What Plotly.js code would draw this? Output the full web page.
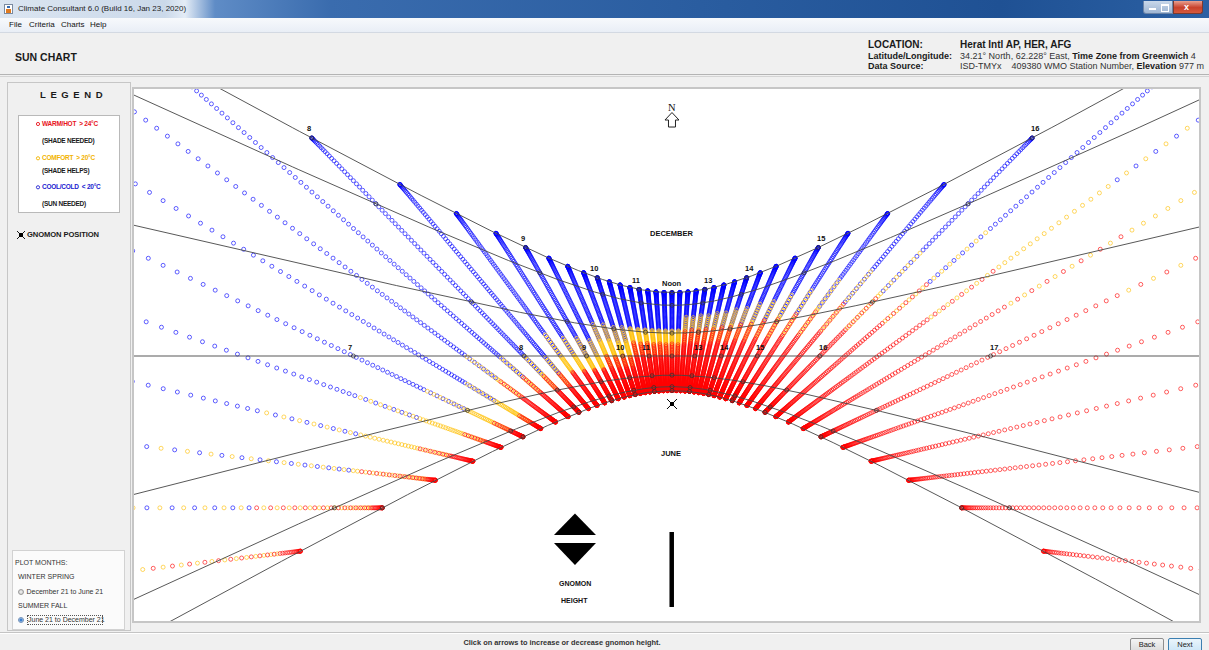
<!DOCTYPE html>
<html><head><meta charset="utf-8">
<script src="https://cdn.plot.ly/plotly-3.0.1.min.js"></script>
<style>
html,body{margin:0;padding:0;}
body{width:1209px;height:650px;overflow:hidden;background:#f0f0f0;font-family:"Liberation Sans",Arial,sans-serif;position:relative;color:#111;}
.a{position:absolute;white-space:nowrap;}
.b{font-weight:bold;}
.lg{font-size:6.5px;font-weight:bold;letter-spacing:-0.25px;line-height:8px;}
.pm{font-size:7px;color:#333;line-height:8px;}
</style></head><body>
<!-- title bar -->
<div class="a" style="left:0;top:0;width:1209px;height:18px;background:linear-gradient(to right,#dbe5f1 0px,#cbd9ea 165px,#e4ecf6 185px,#5f8cc6 215px,#3a6cae 330px,#2a5da0 700px,#1f5194 1000px,#2b60a3 1209px);"></div>
<div class="a" style="left:4px;top:4px;width:9px;height:10px;background:#fff;border:1px solid #7a8aa0;box-sizing:border-box;"><div style="position:absolute;left:1px;top:4px;width:5px;height:4px;background:#e07a20;"></div><div style="position:absolute;left:2px;top:1px;width:3px;height:2px;background:#3a6cb0;"></div></div>
<div class="a" style="left:18px;top:4px;font-size:8px;line-height:10px;color:#1c1c1c;">Climate Consultant 6.0 (Build 16, Jan 23, 2020)</div>
<div class="a" style="left:1143px;top:1px;width:30px;height:13px;background:linear-gradient(#c9d8ea,#9fb6d3);border:1px solid #6b84a8;border-top:none;border-radius:0 0 0 3px;box-sizing:border-box;"></div>
<div class="a" style="left:1149px;top:8px;width:7px;height:2px;background:#fff;"></div>
<div class="a" style="left:1161px;top:4px;width:6px;height:5px;border:1px solid #fff;border-top-width:2px;"></div>
<div class="a" style="left:1173px;top:1px;width:30px;height:13px;background:linear-gradient(#e8a090,#c8412c 55%,#d65a3c);border:1px solid #7a3a30;border-top:none;border-radius:0 0 3px 0;box-sizing:border-box;"></div>
<div class="a b" style="left:1184px;top:2px;font-size:9px;color:#fff;line-height:11px;">x</div>
<!-- menu -->
<div class="a" style="left:0;top:18px;width:1209px;height:14px;background:linear-gradient(#f7f9fc,#e9eef6);border-bottom:1px solid #d3d9e2;"></div>
<div class="a" style="left:9px;top:20px;font-size:8px;line-height:10px;">File</div>
<div class="a" style="left:29px;top:20px;font-size:8px;line-height:10px;">Criteria</div>
<div class="a" style="left:61px;top:20px;font-size:8px;line-height:10px;">Charts</div>
<div class="a" style="left:90px;top:20px;font-size:8px;line-height:10px;">Help</div>
<!-- header -->
<div class="a" style="left:0;top:74px;width:1209px;height:1px;background:#b4b4b4;"></div>
<div class="a" style="left:0;top:76px;width:1209px;height:1px;background:#d4d4d4;"></div>
<div class="a b" style="left:15px;top:51px;font-size:10.5px;line-height:13px;color:#1a1a1a;">SUN CHART</div>
<div class="a b" style="left:868px;top:39px;font-size:10px;line-height:12px;color:#1a1a1a;">LOCATION:</div>
<div class="a b" style="left:960px;top:39px;font-size:10px;line-height:12px;color:#1a1a1a;">Herat Intl AP, HER, AFG</div>
<div class="a b" style="left:868px;top:51px;font-size:9px;line-height:10px;color:#1a1a1a;">Latitude/Longitude:</div>
<div class="a" style="left:960px;top:51px;font-size:9px;line-height:10px;color:#333;">34.21° North, 62.228° East, <b style="color:#1a1a1a">Time Zone from Greenwich</b> 4</div>
<div class="a b" style="left:868px;top:61px;font-size:9px;line-height:10px;color:#1a1a1a;">Data Source:</div>
<div class="a" style="left:960px;top:61px;font-size:9px;line-height:10px;color:#333;">ISD-TMYx&nbsp;&nbsp;&nbsp;&nbsp;409380 WMO Station Number, <b style="color:#1a1a1a">Elevation</b> 977 m</div>
<!-- left panel -->
<div class="a" style="left:7px;top:82px;width:124px;height:549px;border:1px solid #c6c6c6;box-sizing:border-box;"></div>
<div class="a b" style="left:40px;top:89px;font-size:9.5px;line-height:12px;letter-spacing:4.6px;color:#1a1a1a;">LEGEND</div>
<div class="a" style="left:18px;top:115px;width:102px;height:98px;background:#fff;border:1px solid #b9b9b9;box-sizing:border-box;"></div>
<svg class="a" style="left:0;top:0" width="140" height="250">
 <circle cx="38" cy="124" r="1.6" fill="none" stroke="#e8141c" stroke-width="0.9"/>
 <circle cx="38" cy="158.3" r="1.6" fill="none" stroke="#f2b300" stroke-width="0.9"/>
 <circle cx="38" cy="187.3" r="1.6" fill="none" stroke="#2020d0" stroke-width="0.9"/>
 <line x1="17" y1="231" x2="25" y2="239" stroke="#000" stroke-width="0.9"/>
 <line x1="25" y1="231" x2="17" y2="239" stroke="#000" stroke-width="0.9"/>
 <rect x="19" y="233" width="4" height="4" fill="#000"/>
</svg>
<div class="a lg" style="left:42px;top:120px;color:#e8141c;">WARM/HOT&nbsp; &gt; 24°C</div>
<div class="a lg" style="left:42px;top:136.7px;color:#1a1a1a;">(SHADE NEEDED)</div>
<div class="a lg" style="left:42px;top:154.3px;color:#f2b300;">COMFORT&nbsp; &gt; 20°C</div>
<div class="a lg" style="left:42px;top:166.7px;color:#1a1a1a;">(SHADE HELPS)</div>
<div class="a lg" style="left:42px;top:183.3px;color:#2020d0;">COOL/COLD&nbsp; &lt; 20°C</div>
<div class="a lg" style="left:42px;top:200px;color:#1a1a1a;">(SUN NEEDED)</div>
<div class="a b" style="left:27px;top:231px;font-size:7.6px;line-height:8px;letter-spacing:-0.1px;color:#1a1a1a;">GNOMON POSITION</div>
<div class="a" style="left:12px;top:550px;width:113px;height:80px;background:#fbfbfb;border:1px solid #d2d2d2;box-sizing:border-box;"></div>
<div class="a pm" style="left:15px;top:558.7px;">PLOT MONTHS:</div>
<div class="a pm" style="left:18px;top:573px;">WINTER SPRING</div>
<div class="a" style="left:17.5px;top:588.5px;width:6px;height:6px;border-radius:50%;background:radial-gradient(#f4f4f4,#c4c4c4);border:0.5px solid #9a9a9a;box-sizing:border-box;"></div>
<div class="a pm" style="left:26.5px;top:587.7px;">December 21 to June 21</div>
<div class="a pm" style="left:18px;top:601.7px;">SUMMER FALL</div>
<div class="a" style="left:17.5px;top:616.8px;width:6px;height:6px;border-radius:50%;background:radial-gradient(#3a7fd0 40%,#bcd2ea 70%);border:0.5px solid #6f8fb8;box-sizing:border-box;"></div>
<div class="a" style="left:27px;top:614.5px;width:76px;height:10px;border:1px dotted #555;box-sizing:border-box;"></div>
<div class="a pm" style="left:28px;top:616px;">June 21 to December 21</div>
<!-- plot frame -->
<div class="a" style="left:132px;top:87px;width:1069px;height:536px;border:2px solid #c6c6c6;box-sizing:border-box;background:#fff;"></div>
<div id="plot" class="a" style="left:134px;top:89px;width:1065px;height:532px;"></div>
<!-- status -->
<div class="a" style="left:0;top:632px;width:1209px;height:1px;background:#c4c4c4;"></div>
<div class="a" style="left:0;top:633px;width:1209px;height:1px;background:#fff;"></div>
<div class="a b" style="left:362px;width:400px;text-align:center;top:639px;font-size:7.4px;line-height:8px;color:#333;">Click on arrows to increase or decrease gnomon height.</div>
<div class="a" style="left:1130px;top:638px;width:34px;height:14px;border:1px solid #8e8e8e;border-radius:2px;box-sizing:border-box;background:linear-gradient(#f4f4f4,#dcdcdc);font-size:7.5px;line-height:12px;text-align:center;color:#222;">Back</div>
<div class="a" style="left:1168px;top:638px;width:34px;height:14px;border:1px solid #3c7fb1;border-radius:2px;box-sizing:border-box;background:linear-gradient(#eaf5fc,#cde6f7);font-size:7.5px;line-height:12px;text-align:center;color:#222;">Next</div>
<script>
// ---------- data ----------
const LATITUDE = 34.21;            // degrees north
const GNOMON_HEIGHT = 1;           // plot unit = one gnomon height
const FIRST_DAY = 172;             // June 21 (day of year)
const LAST_DAY = 355;              // December 21
const START_HOUR = 5, END_HOUR = 19, STEP_HOURS = 0.25;   // shadow readings every 15 minutes (solar time)
const MONTH_NAMES = ['Jun 21','Jul 21','Aug 21','Sep 21','Oct 21','Nov 21','Dec 21'];
const MONTH_DECLINATION = [23.44, 20.4, 12.0, 0.0, -10.9, -20.2, -23.44];
const DEC_LABEL_HOURS = [8, 9, 10, 11, 12, 13, 14, 15, 16];
const DEC_LABEL_TEXT = ['8','9','10','11','Noon','13','14','15','16'];
const EQX_LABEL_HOURS = [7, 8, 9, 10, 11, 13, 14, 15, 16, 17];
const EQX_LABEL_TEXT = ['7','8','9','10','11','13','14','15','16','17'];
// half-month periods from June 21 to December 21
const PERIODS = ['Jun 21','Jul 6','Jul 21','Aug 5','Aug 20','Sep 5','Sep 20','Oct 5','Oct 20','Nov 5','Nov 20','Dec 5'];
// temperature class by solar hour (rows 5..19) and period:
// R = warm/hot >24°C, Y = comfort >20°C, B = cool/cold <20°C, o = mixed R/Y, g = mixed Y/B
const CLASS_HOURS = [5,6,7,8,9,10,11,12,13,14,15,16,17,18,19];
const TEMP_CLASS = [
  'RoYgBBBBBBBB',
  'RooggBBBBBBB',
  'RRoYgBBBBBBB',
  'RRRRogBBBBBB',
  'RRRRRYgBBBBB',
  'RRRRRoYgBBBB',
  'RRRRRRoYBBBB',
  'RRRRRRoYBBBB',
  'RRRRRRRogBBB',
  'RRRRRRRogBBB',
  'RRRRRRRogBBB',
  'RRRRRRRogBBB',
  'RRRRRRRoYgBB',
  'RRRRRRRoYBBB',
  'RRRRRYBBBBBB'
];
const CLASS_COLORS = {R:'rgb(255,0,0)', Y:'rgb(255,190,0)', B:'rgb(0,0,255)'};

// ---------- geometry (shadow-tip projection) ----------
const RAD = Math.PI/180;
function declination(doy){ return 23.44*Math.sin(2*Math.PI*(284+doy)/365); }
function shadow(hourAngle, decl){
  const p = LATITUDE*RAD, d = decl*RAD, H = hourAngle*RAD;
  const U = Math.sin(p)*Math.sin(d) + Math.cos(p)*Math.cos(d)*Math.cos(H);
  if (U <= 0.004) return null;
  return [GNOMON_HEIGHT*Math.cos(d)*Math.sin(H)/U,
          -GNOMON_HEIGHT*(Math.cos(p)*Math.sin(d) - Math.sin(p)*Math.cos(d)*Math.cos(H))/U];
}
const XR = [-7.620, 7.465], YR = [-3.074, 4.462];
function inView(q, m){ return q && q[0] > XR[0]-m && q[0] < XR[1]+m && q[1] > YR[0]-m && q[1] < YR[1]+m; }

// ---------- points ----------
const pts = {R:{x:[],y:[]}, Y:{x:[],y:[]}, B:{x:[],y:[]}};
const nSlots = Math.round((END_HOUR-START_HOUR)/STEP_HOURS);
const periodLen = (LAST_DAY-FIRST_DAY+1)/PERIODS.length;
for (let s = 0; s <= nSlots; s++) {
  const t = START_HOUR + s*STEP_HOURS;
  const row = TEMP_CLASS[CLASS_HOURS.indexOf(Math.min(END_HOUR, Math.max(START_HOUR, Math.round(t))))];
  for (let doy = FIRST_DAY; doy <= LAST_DAY; doy++) {
    const q = shadow((t-12)*15, declination(doy));
    if (!inView(q, 0.08)) continue;
    const k = doy - FIRST_DAY;
    let c = row[Math.min(PERIODS.length-1, Math.floor(k/periodLen))];
    if (c === 'o') c = ((k+s)%2) ? 'R' : 'Y';
    if (c === 'g') c = ((k+s)%2) ? 'Y' : 'B';
    pts[c].x.push(q[0]); pts[c].y.push(q[1]);
  }
}
const traces = [];
['B','Y','R'].forEach(c => traces.push({
  type:'scatter', mode:'markers', x:pts[c].x, y:pts[c].y, hoverinfo:'skip',
  marker:{symbol:'circle-open', size:4, color:CLASS_COLORS[c], opacity:0.62, line:{width:1, color:CLASS_COLORS[c]}}
}));

// ---------- month date curves ----------
MONTH_DECLINATION.forEach((dec, i) => {
  const xs = [], ys = [];
  for (let H = -180; H <= 180; H += 0.2) {
    const q = shadow(H, dec);
    if (!q || Math.abs(q[0]) > 80 || Math.abs(q[1]) > 80) { xs.push(null); ys.push(null); }
    else { xs.push(q[0]); ys.push(q[1]); }
  }
  traces.push({type:'scatter', mode:'lines', name:MONTH_NAMES[i], x:xs, y:ys, hoverinfo:'skip',
    line:{color:'rgba(70,70,70,0.9)', width:1}, connectgaps:false});
});
// full-hour markers on the date curves
const hx = [], hy = [];
MONTH_DECLINATION.forEach(dec => {
  for (let h = START_HOUR; h <= END_HOUR; h++) {
    const q = shadow((h-12)*15, dec);
    if (inView(q, 0)) { hx.push(q[0]); hy.push(q[1]); }
  }
});
traces.push({type:'scatter', mode:'markers', x:hx, y:hy, hoverinfo:'skip',
  marker:{symbol:'circle-open', size:4, color:'#333', opacity:0.75, line:{width:1, color:'#333'}}});
// gnomon position
traces.push({type:'scatter', mode:'markers', x:[0], y:[0], hoverinfo:'skip',
  marker:{symbol:'x-thin-open', size:10, color:'#000', line:{width:1, color:'#000'}}});
traces.push({type:'scatter', mode:'markers', x:[0], y:[0], hoverinfo:'skip',
  marker:{symbol:'square', size:4, color:'#000'}});

// ---------- labels ----------
const FONT = 'Liberation Sans, Arial, sans-serif';
const ann = [];
function hourLabel(h, dec, text){
  const q = shadow((h-12)*15, dec);
  if (!inView(q, 0)) return;
  ann.push({x:q[0], y:q[1], xref:'x', yref:'y', text:'<b>'+text+'</b>', showarrow:false,
    xshift: h < 12 ? -3 : (h > 12 ? 3 : 0), yshift:9, font:{family:FONT, size:7.5, color:'#111'}});
}
DEC_LABEL_HOURS.forEach((h,i) => hourLabel(h, MONTH_DECLINATION[6], DEC_LABEL_TEXT[i]));
EQX_LABEL_HOURS.forEach((h,i) => hourLabel(h, MONTH_DECLINATION[3], EQX_LABEL_TEXT[i]));

// decorations placed in screen pixels of the window
const GX = 672, GY = 404, PXU = 70.6;
function D(px, py){ return [(px-GX)/PXU, (GY-py)/PXU]; }
function txt(px, py, text, size, family){
  const p = D(px, py);
  ann.push({x:p[0], y:p[1], xref:'x', yref:'y', text:text, showarrow:false,
    font:{family:family||FONT, size:size, color:'#111'}});
}
txt(672, 233.5, '<b>DECEMBER</b>', 7.5);
txt(671, 453.5, '<b>JUNE</b>', 7.5);
txt(672.5, 107, 'N', 10.5, 'Liberation Serif, Times New Roman, serif');
txt(575, 584, '<b>GNOMON</b>', 7);
txt(575, 601, '<b>HEIGHT</b>', 7);
function path(list){ return 'M' + list.map(p => { const d = D(p[0],p[1]); return d[0].toFixed(4)+','+d[1].toFixed(4); }).join(' L') + ' Z'; }
const shapes = [
  {type:'path', xref:'x', yref:'y', path:path([[672,112.5],[679,120],[675.5,120],[675.5,127],[668.5,127],[668.5,120],[665,120]]),
   fillcolor:'#fff', line:{color:'#222', width:1}},
  {type:'path', xref:'x', yref:'y', path:path([[554,535],[596,535],[575,513.5]]), fillcolor:'#000', line:{width:0}},
  {type:'path', xref:'x', yref:'y', path:path([[554,543],[596,543],[575,565]]), fillcolor:'#000', line:{width:0}},
  {type:'path', xref:'x', yref:'y', path:path([[669.5,532],[674,532],[674,607],[669.5,607]]), fillcolor:'#000', line:{width:0}}
];

Plotly.newPlot('plot', traces, {
  width:1065, height:532, margin:{l:0, r:0, t:0, b:0},
  paper_bgcolor:'#fff', plot_bgcolor:'#fff', showlegend:false, hovermode:false,
  xaxis:{range:XR, visible:false, fixedrange:true},
  yaxis:{range:YR, visible:false, fixedrange:true},
  annotations:ann, shapes:shapes
}, {staticPlot:true, displayModeBar:false});
</script>
</body></html>
